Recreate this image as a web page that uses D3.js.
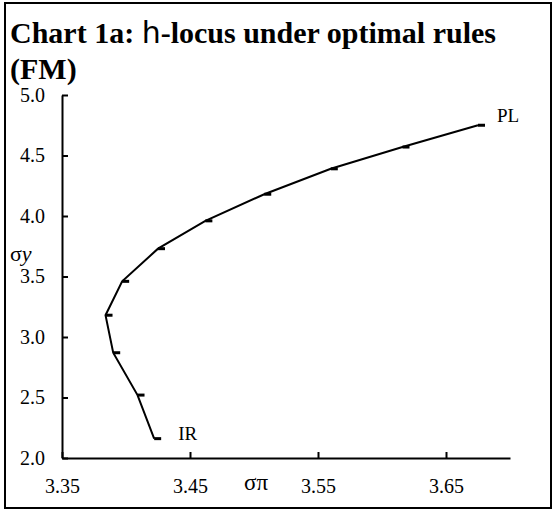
<html>
<head>
  <style>
    body { margin: 0; background: #fff; }
    text { font-family: "Liberation Serif", "Times New Roman", serif; fill: #000; }
  </style>
</head>
<body>
<div id="chart"></div>
<script src="https://d3js.org/d3.v7.min.js"></script>
<script>
// h-locus points, from IR (bottom) to PL (top)
var sigmaPi = [3.422, 3.409, 3.390, 3.384, 3.397, 3.425, 3.462, 3.508, 3.560, 3.616, 3.675];
var sigmaY  = [2.16, 2.52, 2.87, 3.18, 3.46, 3.73, 3.96, 4.18, 4.39, 4.57, 4.75];
var xTicks = [3.35, 3.45, 3.55, 3.65];
var yTicks = [2.0, 2.5, 3.0, 3.5, 4.0, 4.5, 5.0];
var endLabels = ["IR", "PL"];

let width = 554, height = 511;
let mLeft = 62, mRight = 510, mTop = 95, mBottom = 458;

let svg = d3.select("#chart").append("svg")
  .attr("width", width)
  .attr("height", height);

// outer frame
svg.append("rect")
  .attr("x", 5).attr("y", 3)
  .attr("width", 546).attr("height", 505)
  .attr("fill", "none").attr("stroke", "#000").attr("stroke-width", 2);

// title
let title = svg.append("text").attr("x", 10).attr("y", 43)
  .style("font-size", "30px").style("font-weight", "bold");
title.append("tspan").text("Chart 1a: ");
title.append("tspan").style("font-family", "'DejaVu Sans', sans-serif").style("font-weight", "normal").text("h");
title.append("tspan").text("-locus under optimal rules");
svg.append("text").attr("x", 10).attr("y", 79)
  .style("font-size", "30px").style("font-weight", "bold").text("(FM)");

let x = d3.scaleLinear().domain([3.35, 3.70]).range([mLeft, mRight]);
let y = d3.scaleLinear().domain([2.0, 5.0]).range([mBottom, mTop]);

let xAxis = d3.axisBottom(x).tickValues(xTicks).tickFormat(d3.format(".2f"))
  .tickSizeInner(-6).tickSizeOuter(0).tickPadding(21);
let yAxis = d3.axisLeft(y).tickValues(yTicks).tickFormat(d3.format(".1f"))
  .tickSizeInner(-6).tickSizeOuter(0).tickPadding(17);

let gx = svg.append("g").attr("transform", "translate(0," + mBottom + ")").call(xAxis);
let gy = svg.append("g").attr("transform", "translate(" + mLeft + ",0)").call(yAxis);
[gx, gy].forEach(g => {
  g.selectAll("path, line").attr("stroke", "#000").attr("stroke-width", 2);
  g.selectAll("text").style("font-size", "20px")
    .style("font-family", "'Liberation Serif', serif").attr("fill", "#000");
});

// axis titles
let yt = svg.append("text").attr("x", 10).attr("y", 261).style("font-size", "22px");
yt.append("tspan").text("σ");
yt.append("tspan").style("font-style", "italic").text("y");
svg.append("text").attr("x", 244).attr("y", 490).style("font-size", "23px").text("σπ");

let pts = sigmaPi.map((d, i) => [d, sigmaY[i]]);

svg.append("path")
  .datum(pts)
  .attr("fill", "none")
  .attr("stroke", "#000")
  .attr("stroke-width", 2)
  .attr("d", d3.line().x(d => x(d[0])).y(d => y(d[1])));

// dash markers
svg.append("g").selectAll("rect")
  .data(pts)
  .enter()
  .append("rect")
  .attr("x", d => x(d[0]))
  .attr("y", d => y(d[1]) - 1.5)
  .attr("width", 7)
  .attr("height", 3)
  .attr("fill", "#000");

// IR / PL
let first = pts[0], last = pts[pts.length - 1];
svg.append("text").attr("x", x(first[0]) + 24).attr("y", y(first[1]) + 1)
  .style("font-size", "19px").text(endLabels[0]);
svg.append("text").attr("x", x(last[0]) + 19).attr("y", y(last[1]) - 3)
  .style("font-size", "19px").text(endLabels[1]);
</script>
</body>
</html>
